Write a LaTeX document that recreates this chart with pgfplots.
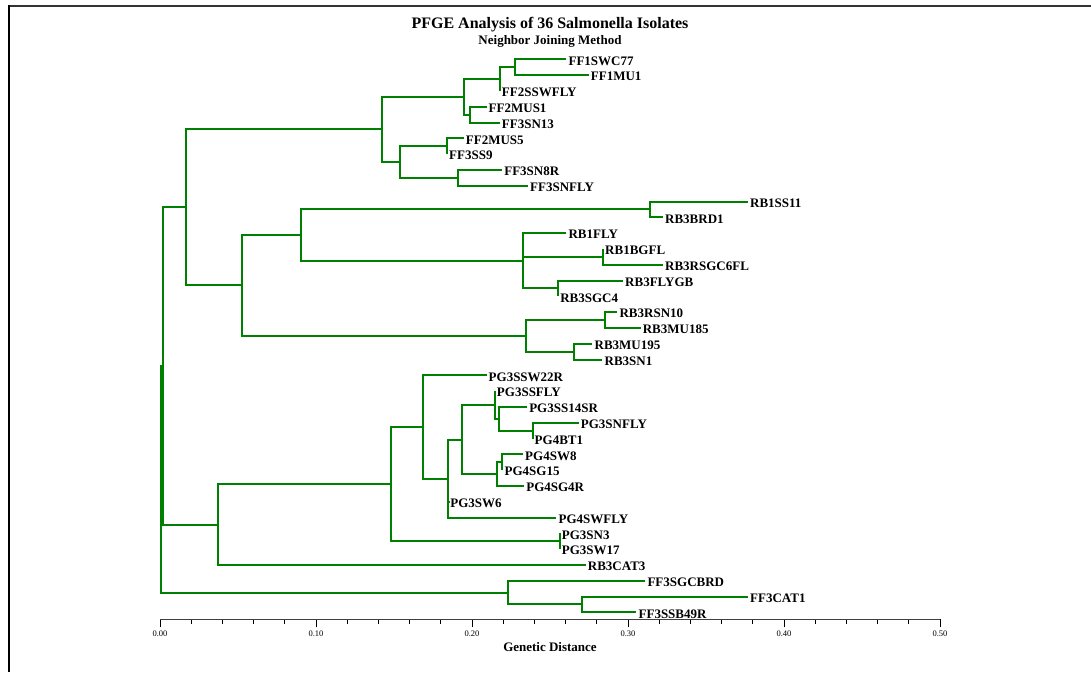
\documentclass[border=0pt]{standalone}
\usepackage{fontspec}
\setmainfont{Liberation Serif}
\usepackage{pgfplots}
\usepackage{pgfplotstable}
\pgfplotsset{compat=1.18}
\definecolor{treeG}{RGB}{0,128,0}

% leaf tips: distance, row, isolate
\pgfplotstableread{
x y name
0.2605 1 FF1SWC77
0.2748 2 FF1MU1
0.2178 3 FF2SSWFLY
0.2093 4 FF2MUS1
0.2178 5 FF3SN13
0.1947 6 FF2MUS5
0.1840 7 FF3SS9
0.2193 8 FF3SN8R
0.2359 9 FF3SNFLY
0.3769 10 RB1SS11
0.3224 11 RB3BRD1
0.2605 12 RB1FLY
0.2840 13 RB1BGFL
0.3224 14 RB3RSGC6FL
0.2968 15 RB3FLYGB
0.2552 16 RB3SGC4
0.2932 17 RB3RSN10
0.3081 18 RB3MU185
0.2772 19 RB3MU195
0.2836 20 RB3SN1
0.2093 21 PG3SSW22R
0.2146 22 PG3SSFLY
0.2353 23 PG3SS14SR
0.2684 24 PG3SNFLY
0.2388 25 PG4BT1
0.2327 26 PG4SW8
0.2195 27 PG4SG15
0.2334 28 PG4SG4R
0.1847 29 PG3SW6
0.2541 30 PG4SWFLY
0.2562 31 PG3SN3
0.2562 32 PG3SW17
0.2729 33 RB3CAT3
0.3111 34 FF3SGCBRD
0.3769 35 FF3CAT1
0.3054 36 FF3SSB49R
}\leaves

\begin{document}
\begin{tikzpicture}
\path[use as bounding box] (-160pt,-52.7pt) rectangle (931pt,619.3pt);
\begin{axis}[
  at={(0pt,0pt)}, anchor=south west,
  scale only axis, width=780pt, height=614.3pt,
  xmin=0, xmax=0.5, ymin=-2.437, ymax=36.44, y dir=reverse,
  axis x line=bottom, axis y line=none,
  x axis line style={-, black!75, line width=0.8pt},
  xtick={0,0.1,0.2,0.3,0.4,0.5}, minor x tick num=4,
  tick align=outside, major tick length=8pt, minor tick length=4.7pt,
  tick style={black, line width=0.7pt},
  xticklabel style={font=\fontsize{8.5}{10}\selectfont,
    /pgf/number format/.cd, fixed, fixed zerofill, precision=2, assume math mode=true},
  xlabel={Genetic Distance},
  xlabel style={font=\bfseries\fontsize{13}{15}\selectfont,
    at={(axis description cs:0.5,0)}, anchor=base, yshift=-32pt},
  clip=false,
  branch/.style={color=treeG, line width=2pt, mark=none, solid},
]
% FF group
\addplot[branch] coordinates {(0.2605,1) (0.2274,1) (0.2274,2) (0.2748,2)};
\addplot[branch] coordinates {(0.2274,1.5) (0.2178,1.5) (0.2178,3)};
\addplot[branch] coordinates {(0.2093,4) (0.1986,4) (0.1986,5) (0.2178,5)};
\addplot[branch] coordinates {(0.2178,2.25) (0.1947,2.25) (0.1947,4.5) (0.1986,4.5)};
\addplot[branch] coordinates {(0.1947,6) (0.1840,6) (0.1840,7)};
\addplot[branch] coordinates {(0.2193,8) (0.1911,8) (0.1911,9) (0.2359,9)};
\addplot[branch] coordinates {(0.1840,6.5) (0.1537,6.5) (0.1537,8.5) (0.1911,8.5)};
\addplot[branch] coordinates {(0.1947,3.375) (0.1420,3.375) (0.1420,7.5) (0.1537,7.5)};
% RB group
\addplot[branch] coordinates {(0.3769,10) (0.3139,10) (0.3139,11) (0.3224,11)};
\addplot[branch] coordinates {(0.2840,13) (0.2840,14) (0.3224,14)};
\addplot[branch] coordinates {(0.2968,15) (0.2552,15) (0.2552,16)};
\addplot[branch] coordinates {(0.2605,12) (0.2324,12) (0.2324,15.5) (0.2552,15.5)};
\addplot[branch] coordinates {(0.2324,13.5) (0.2840,13.5)};
\addplot[branch] coordinates {(0.3139,10.5) (0.0905,10.5) (0.0905,13.75) (0.2324,13.75)};
\addplot[branch] coordinates {(0.2932,17) (0.2855,17) (0.2855,18) (0.3081,18)};
\addplot[branch] coordinates {(0.2772,19) (0.2652,19) (0.2652,20) (0.2836,20)};
\addplot[branch] coordinates {(0.2855,17.5) (0.2343,17.5) (0.2343,19.5) (0.2652,19.5)};
\addplot[branch] coordinates {(0.0905,12.125) (0.0527,12.125) (0.0527,18.5) (0.2343,18.5)};
\addplot[branch] coordinates {(0.1420,5.4375) (0.0167,5.4375) (0.0167,15.3125) (0.0527,15.3125)};
% PG group
\addplot[branch] coordinates {(0.2684,24) (0.2388,24) (0.2388,25)};
\addplot[branch] coordinates {(0.2353,23) (0.2172,23) (0.2172,24.5) (0.2388,24.5)};
\addplot[branch] coordinates {(0.2146,22) (0.2146,23.75) (0.2172,23.75)};
\addplot[branch] coordinates {(0.2327,26) (0.2195,26) (0.2195,27)};
\addplot[branch] coordinates {(0.2195,26.5) (0.2163,26.5) (0.2163,28) (0.2334,28)};
\addplot[branch] coordinates {(0.2146,22.875) (0.1937,22.875) (0.1937,27.25) (0.2163,27.25)};
\addplot[branch] coordinates {(0.1937,25.0625) (0.1847,25.0625) (0.1847,30) (0.2541,30)};
\addplot[branch] coordinates {(0.1847,29) (0.1859,29)};
\addplot[branch] coordinates {(0.2093,21) (0.1689,21) (0.1689,27.53) (0.1847,27.53)};
\addplot[branch] coordinates {(0.2562,31) (0.2562,32)};
\addplot[branch] coordinates {(0.1689,24.265) (0.1482,24.265) (0.1482,31.5) (0.2562,31.5)};
\addplot[branch] coordinates {(0.1482,27.88) (0.0370,27.88) (0.0370,33) (0.2729,33)};
\addplot[branch] coordinates {(0.0167,10.375) (0.0018,10.375) (0.0018,30.44) (0.0370,30.44)};
% FF3 outgroup and root
\addplot[branch] coordinates {(0.3769,35) (0.2708,35) (0.2708,36) (0.3054,36)};
\addplot[branch] coordinates {(0.3111,34) (0.2231,34) (0.2231,35.5) (0.2708,35.5)};
\addplot[branch] coordinates {(0.0018,20.41) (0.0004,20.41) (0.0004,34.75) (0.2231,34.75)};
% leaf labels
\addplot[draw=none, mark=none, nodes near coords, point meta=explicit symbolic,
  every node near coord/.append style={anchor=base west, inner sep=0pt,
    xshift=2pt, yshift=-5.8pt, text=black,
    font=\bfseries\fontsize{13}{15}\selectfont}]
  table[x=x, y=y, meta=name] {\leaves};
\node[font=\bfseries\fontsize{16}{18}\selectfont, anchor=base, inner sep=0pt]
  at (axis description cs:0.5,0.9621) {PFGE Analysis of 36 Salmonella Isolates};
\node[font=\bfseries\fontsize{13}{15}\selectfont, anchor=base, inner sep=0pt]
  at (axis description cs:0.5,0.9360) {Neighbor Joining Method};
\end{axis}
\draw[black!80, line width=2pt] (-151.3pt,613.6pt) -- (931pt,613.6pt);
\draw[black, line width=2pt] (-151.3pt,614.6pt) -- (-151.3pt,-52.7pt);
\end{tikzpicture}
\end{document}
